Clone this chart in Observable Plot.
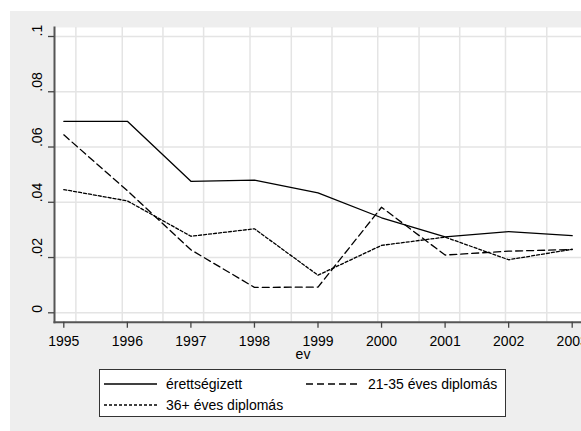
<!DOCTYPE html>
<html>
<head>
<meta charset="utf-8">
<script src="https://cdn.jsdelivr.net/npm/d3@7"></script>
<script src="https://cdn.jsdelivr.net/npm/@observablehq/plot@0.6"></script>
<style>
  body { margin: 0; background: #ffffff; font-family: Arial, "Liberation Sans", sans-serif; }
  #wrap { position: absolute; left: 10px; top: 11px; width: 571px; height: 420px; background: #eeeeee; overflow: hidden; }
  #chart svg { display: block; }
  #legend { position: absolute; left: 89px; top: 358px; width: 405px; height: 46px; background: #ffffff; border: 1.2px solid #333; font-size: 14px; color: #000; }
  .item { position: absolute; display: flex; align-items: center; height: 16px; }
  .item svg { display: block; margin-right: 9px; }
</style>
</head>
<body>
<div id="wrap">
  <div id="chart"></div>
  <div id="legend"></div>
</div>
<script>
// ---- data ----
const years = [1995, 1996, 1997, 1998, 1999, 2000, 2001, 2002, 2003];
const erettsegizett = [0.0693, 0.0693, 0.0476, 0.0480, 0.0434, 0.0344, 0.0275, 0.0294, 0.0279];
const diplomas2135  = [0.0644, 0.0442, 0.0228, 0.0092, 0.0093, 0.0382, 0.0209, 0.0223, 0.0229];
const diplomas36    = [0.0446, 0.0405, 0.0277, 0.0304, 0.0136, 0.0244, 0.0274, 0.0192, 0.0230];
const seriesNames = ["érettségizett", "21-35 éves diplomás", "36+ éves diplomás"];
const yTicks = [0, 0.02, 0.04, 0.06, 0.08, 0.1];
const yTickLabels = ["0", ".02", ".04", ".06", ".08", ".1"];
const gridYears = [1995.19, 1995.92, 1996.56, 1997.20, 1997.93, 1998.58, 1999.22, 1999.94, 2000.59, 2001.23, 2001.95, 2002.60];
const xLabel = "ev";

// ---- styles ----
const dashes = ["none", "7,4", "3,2"];

const seriesValues = [erettsegizett, diplomas2135, diplomas36];
const tables = seriesValues.map((vals, k) => years.map((yr, i) => ({year: yr, value: vals[i], series: seriesNames[k]})));

const chart = Plot.plot({
  width: 571,
  height: 420,
  marginLeft: 44,
  marginTop: 16,
  marginBottom: 109.3,
  marginRight: 0,
  style: {background: "transparent", fontFamily: "Arial, 'Liberation Sans', sans-serif", fontSize: "14px", color: "#000"},
  x: {domain: [1995, 2003], range: [53.3, 561.7]},
  y: {domain: [0, 0.1], range: [301.3, 25]},
  marks: [
    Plot.frame({fill: "#ffffff", stroke: null}),
    Plot.ruleY(yTicks, {stroke: "#e4e4e4", strokeWidth: 1.5}),
    Plot.ruleX(gridYears, {stroke: "#e4e4e4", strokeWidth: 1.5}),
    ...tables.map((t, k) => Plot.line(t, {x: "year", y: "value", stroke: "#000", strokeWidth: 1.3, strokeDasharray: dashes[k]})),
    Plot.frame({anchor: "left", stroke: "#555", strokeWidth: 2}),
    Plot.frame({anchor: "bottom", stroke: "#555", strokeWidth: 2}),
    Plot.axisX({ticks: years, tickSize: 6, tickPadding: 8, tickFormat: d => String(d), stroke: "#444", strokeWidth: 1.3, fill: "#000", fontSize: 14, label: null}),
    Plot.axisY({ticks: yTicks, tickSize: 6, tickFormat: () => "", stroke: "#444", strokeWidth: 1.3, label: null}),
    Plot.text(yTicks, {y: d => d, text: (d, i) => yTickLabels[i], frameAnchor: "left", dx: -17, rotate: -90, fontSize: 14, fill: "#000"}),
    Plot.text([xLabel], {text: d => d, frameAnchor: "bottom", dx: -15, dy: 37, lineAnchor: "bottom", fontSize: 14, fill: "#000"})
  ]
});
document.getElementById("chart").appendChild(chart);

// ---- legend ----
const legend = document.getElementById("legend");
const positions = [[4, 6], [206, 6], [4, 27]];
seriesNames.forEach((name, k) => {
  const div = document.createElement("div");
  div.className = "item";
  div.style.left = positions[k][0] + "px";
  div.style.top = positions[k][1] + "px";
  const dash = dashes[k] === "none" ? "" : `stroke-dasharray="${dashes[k]}"`;
  div.innerHTML = `<svg width="53" height="4"><line x1="0" x2="53" y1="2" y2="2" stroke="#000" stroke-width="1.3" ${dash}></line></svg><span>${name}</span>`;
  legend.appendChild(div);
});
</script>
</body>
</html>
